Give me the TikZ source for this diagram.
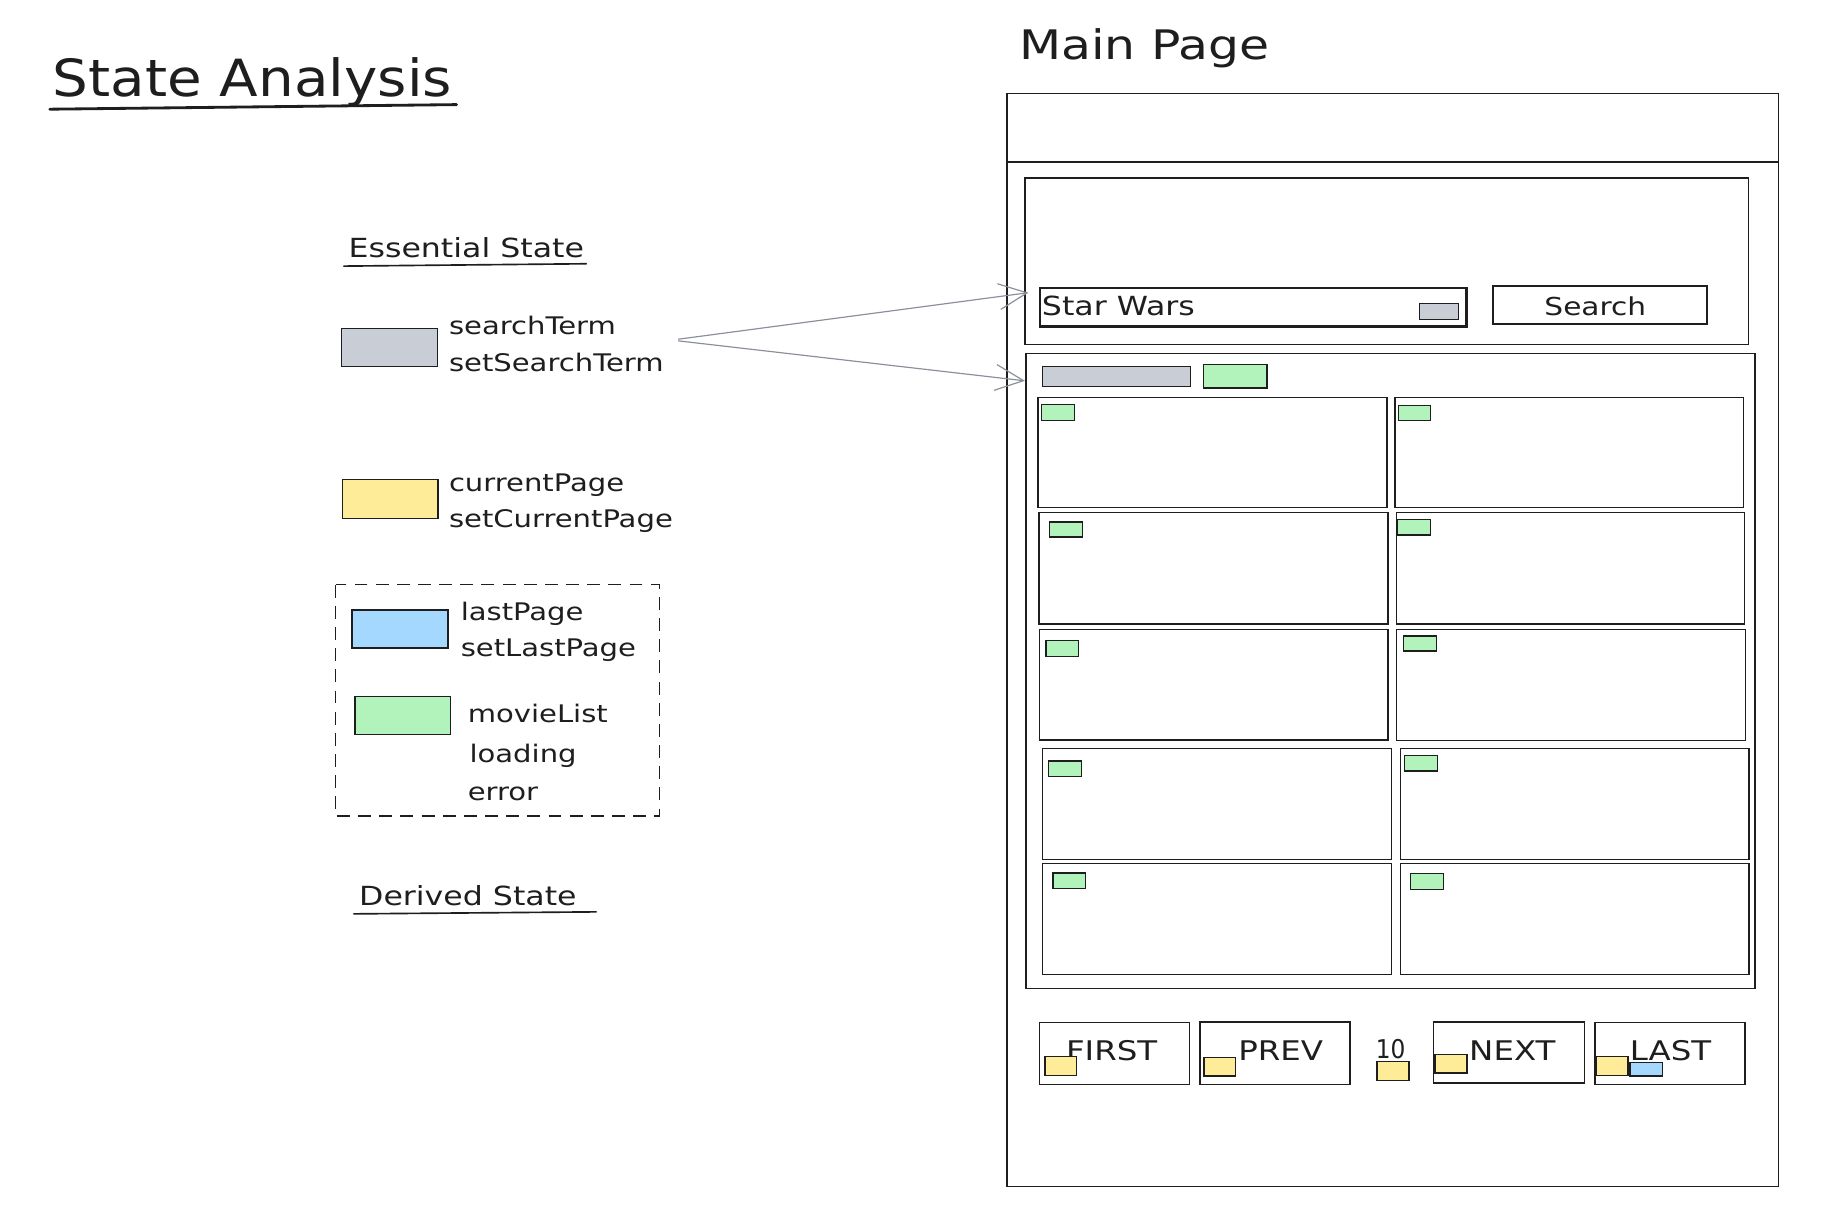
\documentclass[tikz,border=0pt]{standalone}
\usepackage{fontspec}
\setmainfont{DejaVu Sans}[FakeStretch=1.2]
\newfontfamily\titlefont{DejaVu Sans}[FakeStretch=1.1]
\newfontfamily\narrowfont{DejaVu Sans}[FakeStretch=0.9]
\usetikzlibrary{arrows.meta}
\definecolor{ink}{HTML}{1E1E1E}
\definecolor{greyc}{HTML}{C9CED6}
\definecolor{yellowc}{HTML}{FFEC99}
\definecolor{bluec}{HTML}{A5D8FF}
\definecolor{greenc}{HTML}{B2F2BB}
\definecolor{arrowc}{HTML}{8A9099}
\tikzset{
  ubase/.style={draw=ink, inner sep=0pt, outer sep=0pt, line width=0.6pt},
  txt/.style={anchor=base west, inner sep=0pt, outer sep=0pt, text=ink},
  item/.style={txt, font=\fontsize{10.3pt}{12pt}\selectfont},
  heading/.style={txt, font=\fontsize{11.2pt}{13pt}\selectfont},
  btntext/.style={txt, font=\fontsize{11.5pt}{13pt}\selectfont},
  ptr/.style={draw=arrowc, line width=0.5pt, -{Straight Barb[length=12pt,width=11pt,line width=0.5pt]}},
  uline/.style={draw=ink, line width=1pt, line cap=round},
  legendframe/.style={draw=ink, line width=0.6pt, dash pattern=on 5.5pt off 3.5pt}
}
\newcommand\ubox[6][]{%
  \node[ubase,#1, minimum width={(#5-#3)*0.5pt}, minimum height={(#6-#4)*0.5pt}] (#2) at ({(#3+#5)/2},{(#4+#6)/2}) {};}
\begin{document}
\begin{tikzpicture}[x=0.5pt,y=-0.5pt]
\useasboundingbox[fill=white] (0,0) rectangle (1568,1033);

% ---------- left: state analysis ----------
\node[txt, font=\titlefont\fontsize{21.8pt}{26pt}\selectfont] (title) at (45,82.4) {State Analysis};
\draw[uline, line width=1.2pt] (42.4,92.9) -- (388.5,89);

\node[heading] (essential) at (296.6,219) {Essential State};
\draw[uline, line width=0.7pt] (292.6,226.4) -- (498.8,224.4);

\ubox[fill=greyc]{legterm}{290.6}{279.4}{372}{312}
\node[item] (tterm) at (382,285) {searchTerm};
\node[item] (tsetterm) at (382,316.3) {setSearchTerm};

\ubox[fill=yellowc]{legpage}{291.6}{408}{372.5}{441}
\node[item] (tpage) at (382,418.5) {currentPage};
\node[item] (tsetpage) at (382,448.8) {setCurrentPage};

\ubox[draw=none]{legframe}{285.6}{497.5}{561.2}{694.4}
\draw[legendframe] (legframe.north west) rectangle (legframe.south east);

\ubox[fill=bluec]{leglast}{299.6}{519.1}{381}{551.4}
\node[item] (tlast) at (392,527.5) {lastPage};
\node[item] (tsetlast) at (392,558.7) {setLastPage};

\ubox[fill=greenc]{legmovie}{302}{592.6}{383.5}{624.9}
\node[item] (tmovie) at (398,614.7) {movieList};
\node[item] (tloading) at (399.5,648.3) {loading};
\node[item] (terror) at (398,681.3) {error};

\node[heading] (derived) at (305.6,770.2) {Derived State};
\draw[uline, line width=0.7pt] (301,777.5) -- (507.3,775.8);

% ---------- right: main page ----------
\node[txt, font=\fontsize{17.3pt}{21pt}\selectfont] (maintitle) at (867,51) {Main Page};

\ubox{mainpage}{856.6}{79.4}{1513}{1009.6}
\ubox{header}{856.6}{79.4}{1513}{137.7}

\ubox{searchpanel}{872}{151.6}{1487.6}{293}
\ubox[line width=1pt]{input}{884.6}{245}{1247.6}{277.7}
\node[txt, font=\fontsize{11.2pt}{13pt}\selectfont] (starwars) at (886.5,268.6) {Star Wars};
\ubox[fill=greyc]{inputtag}{1207.6}{258}{1241}{272}
\ubox[line width=0.9pt]{searchbtn}{1270.5}{243}{1452}{276}
\node[txt, font=\fontsize{10.5pt}{13pt}\selectfont] (searchlbl) at (1314,268.6) {Search};

\ubox{results}{873}{300.5}{1493}{841}
\ubox[fill=greyc]{termbar}{887}{312}{1013}{328.6}
\ubox[fill=greenc]{listbar}{1024}{310}{1078}{330}

% cards
\ubox{c1a}{883}{338}{1180}{432}
\ubox{c1b}{1187}{338}{1483.5}{432}
\ubox{c2a}{884}{436}{1181}{531}
\ubox{c2b}{1188}{436}{1484}{531}
\ubox{c3a}{884.6}{535.7}{1181}{629.6}
\ubox{c3b}{1188}{535.7}{1485}{630}
\ubox{c4a}{887}{637}{1184}{731}
\ubox{c4b}{1191.5}{637}{1488}{731}
\ubox{c5a}{887}{734.6}{1184}{829}
\ubox{c5b}{1191.5}{734.6}{1488}{829}
% card tags
\ubox[fill=greenc]{g1a}{886}{344}{914}{357.5}
\ubox[fill=greenc]{g1b}{1190}{345}{1217}{358}
\ubox[fill=greenc]{g2a}{893}{444}{921}{457}
\ubox[fill=greenc]{g2b}{1189}{442}{1217}{455}
\ubox[fill=greenc]{g3a}{890}{545}{917.6}{558.5}
\ubox[fill=greenc]{g3b}{1194}{541}{1222}{554}
\ubox[fill=greenc]{g4a}{892}{647.5}{920}{660.5}
\ubox[fill=greenc]{g4b}{1195}{643}{1223}{656}
\ubox[fill=greenc]{g5a}{896}{742.6}{923.6}{756}
\ubox[fill=greenc]{g5b}{1200}{743}{1228}{757}

% pagination
\ubox{bfirst}{884.6}{870}{1012}{922.6}
\ubox{bprev}{1020.8}{869.5}{1148.5}{922.6}
\ubox{bnext}{1219.5}{869.5}{1348}{921.5}
\ubox{blast}{1357}{870}{1484.7}{922.6}
\node[btntext] (lfirst) at (907,902.6) {FIRST};
\node[btntext] (lprev) at (1053.5,902.6) {PREV};
\node[btntext] (lnext) at (1250,902) {NEXT};
\node[btntext] (llast) at (1386.7,902.6) {LAST};
\node[txt, font=\narrowfont\fontsize{11pt}{13pt}\selectfont] (lnum) at (1170.5,900.5) {10};
\ubox[fill=yellowc]{yfirst}{889}{898.6}{916}{915}
\ubox[fill=yellowc]{yprev}{1024.3}{899.5}{1051.3}{915.6}
\ubox[fill=yellowc]{ynum}{1171.6}{903.3}{1198.6}{919.5}
\ubox[fill=yellowc]{ynext}{1221}{897}{1248}{913}
\ubox[fill=yellowc]{ylast}{1358}{898.6}{1385}{915}
\ubox[fill=bluec]{blastp}{1386.6}{904}{1414.6}{915.6}

% arrows
\coordinate (asrc1) at (577,288.6);
\coordinate (asrc2) at (577,290);
\coordinate (tipinput) at (875,249);
\coordinate (tipresults) at (872,324);
\draw[ptr] (asrc1) -- (tipinput);
\draw[ptr] (asrc2) -- (tipresults);
\end{tikzpicture}
\end{document}
